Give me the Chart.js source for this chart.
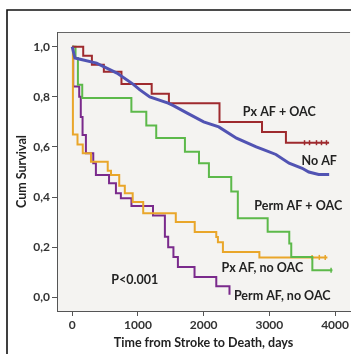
<!DOCTYPE html>
<html>
<head>
<meta charset="utf-8">
<script src="https://cdn.jsdelivr.net/npm/chart.js@4.4.1/dist/chart.umd.min.js"></script>
<style>
  body { margin: 0; background: #fff; }
  #wrap { width: 351px; height: 354px; }
</style>
</head>
<body>
<div id="wrap"><canvas id="km" width="351" height="354"></canvas></div>
<script>
// Kaplan-Meier curves (days, cumulative survival)
const xTicks = [0, 1000, 2000, 3000, 4000];
const yTicks = [0, 0.2, 0.4, 0.6, 0.8, 1.0];

const pxOacDays = [0, 167, 299, 481, 749, 1209, 1471, 2241, 2888, 3252, 3909];
const pxOacSurv = [1.0, 0.964, 0.928, 0.90, 0.851, 0.812, 0.775, 0.70, 0.66, 0.617, 0.617];

const noAfDays = [0, 40, 120, 370, 680, 930, 1030, 1180, 1460, 1540, 1750, 2000, 2230, 2500, 2800, 2900, 3100, 3300, 3500, 3600, 3750, 3910];
const noAfSurv = [1.0, 0.955, 0.95, 0.935, 0.895, 0.85, 0.828, 0.80, 0.775, 0.765, 0.735, 0.70, 0.68, 0.635, 0.60, 0.59, 0.57, 0.535, 0.515, 0.50, 0.49, 0.49];

const permOacDays = [0, 50, 86, 152, 900, 1127, 1278, 1715, 1929, 2080, 2420, 2520, 2974, 3303, 3333, 3654, 3960];
const permOacSurv = [1.0, 0.955, 0.848, 0.795, 0.741, 0.686, 0.636, 0.581, 0.535, 0.48, 0.422, 0.315, 0.261, 0.215, 0.161, 0.108, 0.108];

const pxNoOacDays = [0, 10, 80, 160, 285, 540, 590, 715, 800, 920, 1080, 1576, 1864, 2192, 2217, 2293, 2848, 3883];
const pxNoOacSurv = [1.0, 0.65, 0.61, 0.575, 0.541, 0.505, 0.488, 0.445, 0.415, 0.38, 0.335, 0.30, 0.26, 0.24, 0.22, 0.181, 0.159, 0.159];

const permNoOacDays = [0, 15, 106, 130, 157, 208, 320, 360, 560, 665, 740, 901, 1229, 1410, 1460, 1540, 1608, 1861, 2192, 2393];
const permNoOacSurv = [1.0, 0.841, 0.80, 0.72, 0.648, 0.575, 0.535, 0.488, 0.455, 0.415, 0.395, 0.364, 0.326, 0.241, 0.20, 0.161, 0.121, 0.081, 0.044, 0.01];

// censored observations near the tail
const pxOacCens = [3535, 3611, 3717, 3793, 3869];
const pxNoOacCens = [3650, 3760, 3850];
const permOacCens = [3939];

// curve labels, placed in data units
const labelText = ['Px AF + OAC', 'No AF', 'Perm AF + OAC', 'Px AF, no OAC', 'Perm AF, no OAC', 'P<0.001'];
const labelDay = [3151, 3758, 3439, 2893, 3196, 951];
const labelSurv = [0.74, 0.546, 0.364, 0.116, 0.006, 0.068];

const pts = (xs, ys) => xs.map((x, i) => ({ x: x, y: ys[i] }));
const FONT = 'Lato, "Open Sans", sans-serif';

const frame = {
  id: 'frame',
  beforeDraw(chart) {
    const c = chart.ctx, a = chart.chartArea;
    c.save();
    c.fillStyle = '#fff';
    c.fillRect(0, 0, chart.width, chart.height);
    // outer black frame
    c.strokeStyle = '#111';
    c.lineWidth = 1.6;
    c.beginPath();
    c.moveTo(7, chart.height + 2);
    c.lineTo(7, 10);
    c.lineTo(chart.width + 2, 10);
    c.stroke();
    // plot panel
    c.fillStyle = '#f4f3f1';
    c.fillRect(a.left, a.top, a.right - a.left, a.bottom - a.top);
    c.strokeStyle = '#666';
    c.lineWidth = 1;
    c.beginPath();
    c.moveTo(a.left, a.top + 0.5);
    c.lineTo(a.right, a.top + 0.5);
    c.stroke();
    c.restore();
  },
  afterDatasetsDraw(chart) {
    const c = chart.ctx, sx = chart.scales.x, sy = chart.scales.y;
    c.save();
    c.font = 'bold 12.5px ' + FONT;
    c.fillStyle = '#222';
    c.textAlign = 'center';
    c.textBaseline = 'middle';
    labelText.forEach((t, i) => {
      c.fillText(t, sx.getPixelForValue(labelDay[i]), sy.getPixelForValue(labelSurv[i]));
    });
    c.restore();
  }
};

// 'before' = hold previous value up to the next event, then drop (KM style)
const line = (data, color, width, stepped) => ({
  data: data,
  borderColor: color,
  borderWidth: width,
  stepped: stepped,
  pointRadius: 0,
  tension: 0,
  fill: false
});

const cens = (days, surv, color) => ({
  data: days.map(d => ({ x: d, y: surv })),
  borderColor: color,
  borderWidth: 1.5,
  pointStyle: 'line',
  rotation: 90,
  pointRadius: 2.5,
  showLine: false
});

new Chart(document.getElementById('km'), {
  type: 'line',
  data: {
    datasets: [
      line(pts(noAfDays, noAfSurv), '#5153b3', 3, false),
      line(pts(pxOacDays, pxOacSurv), '#9e2a2e', 2, 'before'),
      line(pts(permOacDays, permOacSurv), '#5cb94a', 2, 'before'),
      line(pts(pxNoOacDays, pxNoOacSurv), '#e9a62a', 2, 'before'),
      line(pts(permNoOacDays, permNoOacSurv), '#7a2a8c', 2, 'before'),
      cens(pxOacCens, pxOacSurv[pxOacSurv.length - 1], '#9e2a2e'),
      cens(pxNoOacCens, pxNoOacSurv[pxNoOacSurv.length - 1], '#e9a62a'),
      cens(permOacCens, permOacSurv[permOacSurv.length - 1], '#5cb94a')
    ]
  },
  options: {
    responsive: false,
    animation: false,
    layout: { autoPadding: false, padding: { left: 10, top: 32, right: 0, bottom: 0 } },
    plugins: { legend: { display: false }, tooltip: { enabled: false } },
    scales: {
      x: {
        type: 'linear',
        min: -232,
        max: 4228,
        afterBuildTicks: s => { s.ticks = xTicks.map(v => ({ value: v })); },
        afterFit: s => { s.height = 43; },
        grid: { drawOnChartArea: false, drawTicks: true, tickLength: 5, color: '#555' },
        border: { display: true, color: '#555', width: 1 },
        ticks: {
          padding: 2,
          color: '#333',
          font: { family: FONT, size: 12, weight: 'bold' },
          callback: v => String(v),
          maxRotation: 0
        },
        title: {
          display: true,
          text: 'Time from Stroke to Death, days',
          color: '#222',
          font: { family: FONT, size: 12.5, weight: 'bold' },
          padding: { top: 0, bottom: 4 }
        }
      },
      y: {
        min: -0.055,
        max: 1.059,
        afterBuildTicks: s => { s.ticks = yTicks.map(v => ({ value: v })); },
        afterFit: s => { s.width = 47; },
        grid: { drawOnChartArea: false, drawTicks: true, tickLength: 5, color: '#555' },
        border: { display: true, color: '#555', width: 1 },
        ticks: {
          padding: 2,
          color: '#333',
          font: { family: FONT, size: 12, weight: 'bold' },
          callback: v => v.toFixed(1).replace('.', ',')
        },
        title: {
          display: true,
          text: 'Cum Survival',
          color: '#222',
          font: { family: FONT, size: 12.5, weight: 'bold' },
          padding: { top: 4, bottom: 0 }
        }
      }
    }
  },
  plugins: [frame]
});
</script>
</body>
</html>
